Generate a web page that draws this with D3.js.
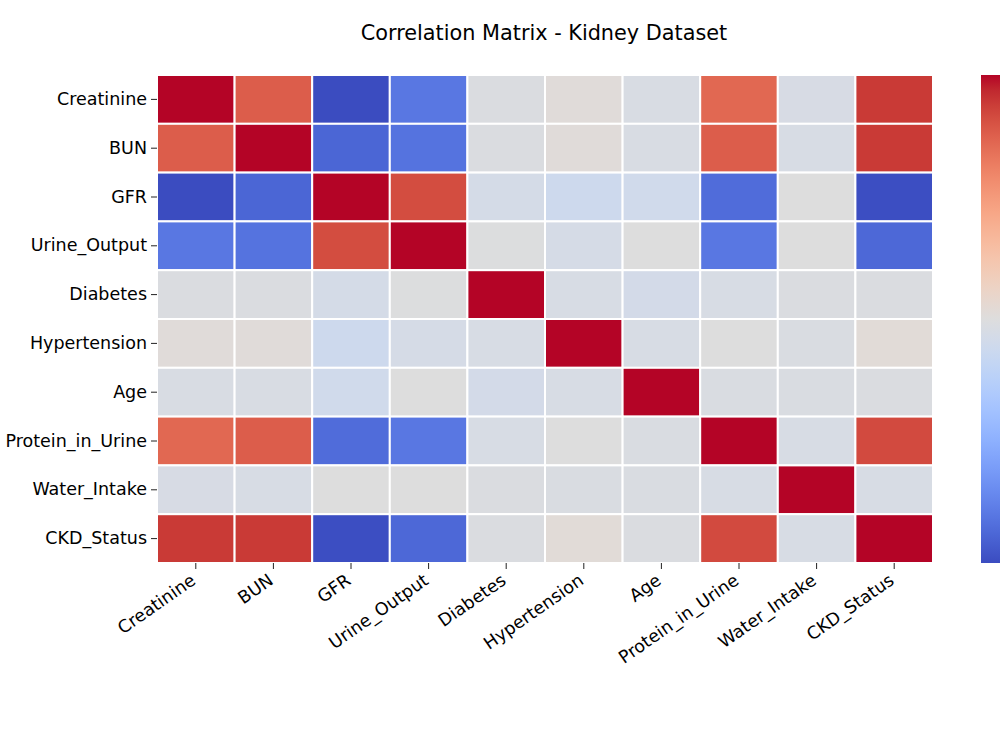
<!DOCTYPE html>
<html>
<head>
<meta charset="utf-8">
<script src="https://cdn.jsdelivr.net/npm/d3@7"></script>
<style>
  body { margin: 0; background: #fff; }
  text { font-family: "DejaVu Sans", sans-serif; fill: #000; }
</style>
</head>
<body>
<svg id="chart" width="1000" height="750"></svg>
<script>
const variables = ["Creatinine", "BUN", "GFR", "Urine_Output", "Diabetes", "Hypertension", "Age", "Protein_in_Urine", "Water_Intake", "CKD_Status"];

const rowCreatinine = [1.00, 0.77, -0.93, -0.74, 0.016, 0.054, -0.004, 0.73, -0.013, 0.89];
const rowBUN        = [0.77, 1.00, -0.82, -0.76, 0.016, 0.054, -0.006, 0.77, -0.009, 0.89];
const rowGFR        = [-0.93, -0.82, 1.00, 0.83, -0.033, -0.081, -0.062, -0.79, 0.035, -0.92];
const rowUrine      = [-0.74, -0.76, 0.83, 1.00, 0.025, -0.023, 0.035, -0.74, 0.035, -0.81];
const rowDiabetes   = [0.016, 0.016, -0.033, 0.025, 1.00, -0.009, -0.042, -0.009, 0.016, 0.016];
const rowHyper      = [0.054, 0.054, -0.081, -0.023, -0.009, 1.00, -0.009, 0.035, 0.006, 0.064];
const rowAge        = [-0.004, -0.006, -0.062, 0.035, -0.042, -0.009, 1.00, 0.006, 0.006, 0.016];
const rowProtein    = [0.73, 0.77, -0.79, -0.74, -0.009, 0.035, 0.006, 1.00, -0.009, 0.84];
const rowWater      = [-0.013, -0.009, 0.035, 0.035, 0.016, 0.006, 0.006, -0.009, 1.00, -0.009];
const rowCKD        = [0.89, 0.89, -0.92, -0.81, 0.016, 0.064, 0.016, 0.84, -0.009, 1.00];

const matrix = [rowCreatinine, rowBUN, rowGFR, rowUrine, rowDiabetes, rowHyper, rowAge, rowProtein, rowWater, rowCKD];

// matplotlib "coolwarm" key colours (Moreland)
const coolwarmStops = ["#3b4cc0","#445acc","#4d68d7","#5775e1","#6282ea","#6c8ef1","#779af7","#82a5fb","#8db0fe","#98b9ff","#a3c2ff","#aec9fd","#b8d0f9","#c2d5f4","#ccd9ee","#d5dbe6","#dddddd","#e5d8d1","#ecd3c5","#f1ccb8","#f5c4ac","#f7bb9f","#f7b193","#f7a686","#f49a7b","#f18d6f","#ec7f63","#e57058","#de604d","#d55042","#cb3e38","#c0282f","#b40426"];
const coolwarm = d3.scaleLinear()
  .domain(coolwarmStops.map((_, i) => i / (coolwarmStops.length - 1)))
  .range(coolwarmStops)
  .interpolate(d3.interpolateRgb);

const flat = matrix.flat();
const vmin = d3.min(flat), vmax = d3.max(flat);
const color = v => coolwarm((v - vmin) / (vmax - vmin));

const svg = d3.select("#chart");
const L = 157, R = 933, T = 75, B = 563;

const x = d3.scaleBand().domain(variables).range([L, R]);
const y = d3.scaleBand().domain(variables).range([T, B]);

svg.append("rect").attr("width", 1000).attr("height", 750).attr("fill", "#fff");

const cells = [];
matrix.forEach((row, i) => row.forEach((v, j) => cells.push({r: variables[i], c: variables[j], v})));

svg.append("g").selectAll("rect").data(cells).join("rect")
  .attr("x", d => x(d.c))
  .attr("y", d => y(d.r))
  .attr("width", x.bandwidth())
  .attr("height", y.bandwidth())
  .attr("fill", d => color(d.v))
  .attr("stroke", "#fff")
  .attr("stroke-width", 2);

// Y axis
const yAxis = svg.append("g").attr("transform", `translate(${L},0)`)
  .call(d3.axisLeft(y).tickSize(6).tickPadding(4));
yAxis.select(".domain").remove();
yAxis.selectAll(".tick line").attr("stroke", "#222").attr("stroke-width", 1);
yAxis.selectAll(".tick text").attr("font-size", 17.5).attr("font-family", "DejaVu Sans").attr("fill", "#000");

// X axis
const xAxis = svg.append("g").attr("transform", `translate(0,${B})`)
  .call(d3.axisBottom(x).tickSize(6).tickPadding(4));
xAxis.select(".domain").remove();
xAxis.selectAll(".tick line").attr("stroke", "#222").attr("stroke-width", 1);
xAxis.selectAll(".tick text")
  .attr("font-size", 17.5).attr("font-family", "DejaVu Sans").attr("fill", "#000")
  .attr("text-anchor", "end")
  .attr("dy", null)
  .attr("y", 0)
  .attr("transform", "translate(1,20) rotate(-35)");

// Title
svg.append("text")
  .attr("x", 544).attr("y", 40)
  .attr("text-anchor", "middle")
  .attr("font-size", 20.8)
  .text("Correlation Matrix - Kidney Dataset");

// Colorbar
const defs = svg.append("defs");
const grad = defs.append("linearGradient").attr("id", "cbar")
  .attr("x1", 0).attr("y1", 1).attr("x2", 0).attr("y2", 0);
coolwarmStops.forEach((c, i) => grad.append("stop")
  .attr("offset", i / (coolwarmStops.length - 1)).attr("stop-color", c));
svg.append("rect")
  .attr("x", 981).attr("y", T).attr("width", 30).attr("height", B - T)
  .attr("fill", "url(#cbar)");
</script>
</body>
</html>
